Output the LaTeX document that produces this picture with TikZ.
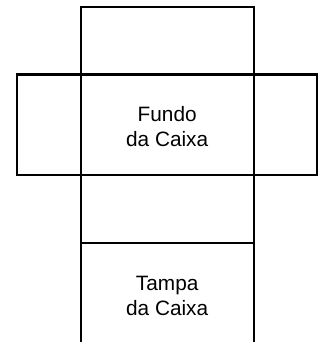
\documentclass[tikz,border=0pt]{standalone}
\usepackage{fontspec}
\setmainfont{Liberation Sans}
\begin{document}
\begin{tikzpicture}[x=1pt,y=-1pt,
  box/.style={line width=2.3pt, draw=black},
  lbl/.style={font=\fontsize{20.8}{25}\selectfont, align=center, inner sep=0pt, text=black}]
\useasboundingbox (0,0) rectangle (325,342);
\coordinate (tl) at (81.2,7);
\coordinate (tr) at (253.7,7);
\coordinate (bl) at (81.2,346);
\coordinate (br) at (253.7,346);
\coordinate (ml) at (81.2,243.3);
\coordinate (mr) at (253.7,243.3);
\draw[box] (bl) -- (tl) -- (tr) -- (br);
\draw[box] (17,74.5) rectangle (317.3,175.3);
\draw[box] (ml) -- (mr);
\node[lbl] (fundo) at (167.2,127) {Fundo\\da Caixa};
\node[lbl] (tampa) at (167.2,296) {Tampa\\da Caixa};
\end{tikzpicture}
\end{document}
